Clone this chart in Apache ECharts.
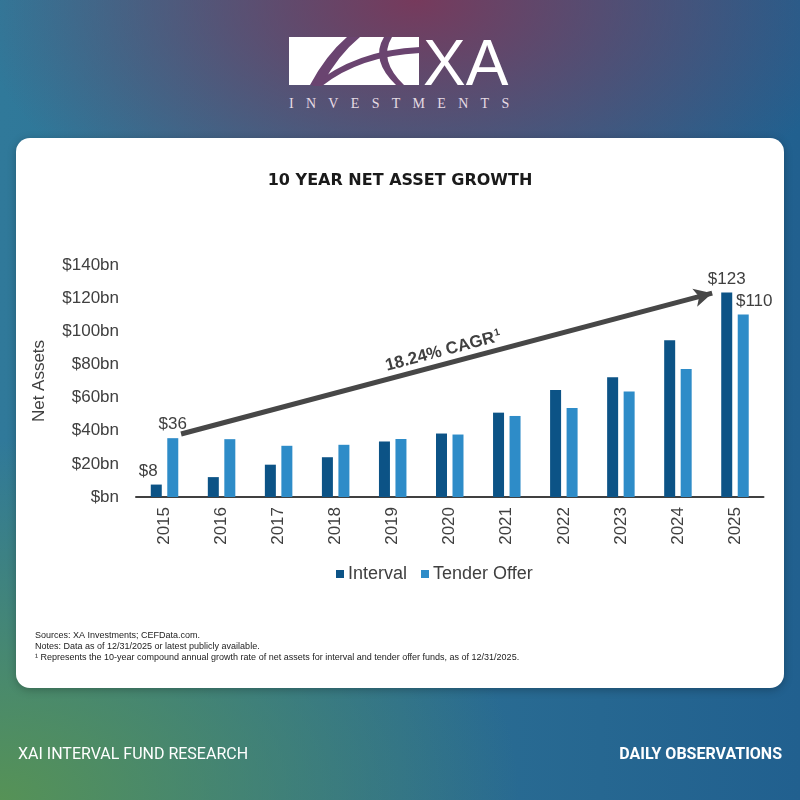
<!DOCTYPE html>
<html>
<head>
<meta charset="utf-8">
<script src="https://cdn.jsdelivr.net/npm/echarts@6/dist/echarts.min.js"></script>
<style>
  html, body { margin: 0; padding: 0; }
  body {
    width: 800px; height: 800px; position: relative; overflow: hidden;
    background:
      radial-gradient(ellipse 440px 260px at 52% 0%, rgba(118,58,92,1) 0%, rgba(118,58,92,0) 100%),
      radial-gradient(ellipse 520px 360px at 0% 100%, rgba(86,146,86,1) 0%, rgba(86,146,86,0) 100%),
      linear-gradient(to right, #30799a 0%, #2b6e93 50%, #21608f 100%);
  }
  #card {
    position: absolute; left: 16px; top: 138px; width: 768px; height: 550px;
    background: #fff; border-radius: 14px; box-shadow: 0 2px 8px rgba(0,0,0,0.25);
  }
  #container { position: absolute; left: 0; top: 0; width: 800px; height: 800px; }
  .foot {
    position: absolute; top: 744px; color: #fff; font-family: Roboto, sans-serif;
    font-size: 16px; white-space: nowrap;
  }
  #foot-left { left: 18px; }
  #foot-right { right: 18px; font-weight: bold; }
  #logo { position: absolute; left: 0; top: 0; }
</style>
</head>
<body>
<svg id="logo" width="800" height="130">
  <rect x="289" y="37" width="130" height="48" fill="#fff"/>
  <path d="M347 37 L360 37 Q338 55 322 85 L310 85 Q326 55 347 37 Z" fill="#6a4470"/>
  <path d="M312 86 Q355 50 420 47 L420 53 Q360 56 322 86 Z" fill="#6a4470"/>
  <path d="M384 37 L392 37 Q378 60 404 85 L396 85 Q370 60 384 37 Z" fill="#6a4470"/>
  <text x="423" y="85" fill="#fff" font-family="Liberation Sans, Arial" font-size="64">XA</text>
  <text x="289" y="108" fill="#e6dbe4" font-family="Liberation Serif, serif" font-size="14" letter-spacing="12.3">INVESTMENTS</text>
</svg>
<div id="card"></div>
<div id="container"></div>
<span class="foot" id="foot-left">XAI INTERVAL FUND RESEARCH</span>
<span class="foot" id="foot-right">DAILY OBSERVATIONS</span>
<script>
var years = ['2015', '2016', '2017', '2018', '2019', '2020', '2021', '2022', '2023', '2024', '2025'];
var intervalData = [7.5, 12, 19.5, 24, 33.5, 38.3, 50.9, 64.5, 72.3, 94.6, 123.4];
var tenderData = [35.5, 34.9, 30.9, 31.5, 35, 37.7, 48.9, 53.7, 63.7, 77.3, 110.2];
var yTicks = [0, 20, 40, 60, 80, 100, 120, 140];
// labelled points: [index, text, x offset]
var intervalLabels = [[0, '$8', -8], [10, '$123', 0]];
var tenderLabels = [[0, '$36', 0], [10, '$110', 11]];
// CAGR arrow, in data units (position along the years, value)
var arrowFrom = [0.29, 38];
var arrowTo = [9.6, 123];
var footnotes = [
    'Sources: XA Investments; CEFData.com.',
    'Notes: Data as of 12/31/2025 or latest publicly available.',
    '\u00b9 Represents the 10-year compound annual growth rate of net assets for interval and tender offer funds, as of 12/31/2025.'
];

var txt = '#404040';
var font = 'Liberation Sans, Arial, sans-serif';

var withLabels = function (values, labels) {
    return values.map(function (v, i) {
        var item = { value: v };
        labels.forEach(function (l) {
            if (l[0] === i) {
                item.label = {
                    show: true, position: 'top', formatter: l[1], offset: [l[2], 0],
                    color: txt, fontSize: 17, fontFamily: font
                };
            }
        });
        return item;
    });
};

var dom = document.getElementById('container');
var myChart = echarts.init(dom, null, { renderer: 'canvas' });

var option = {
    backgroundColor: 'transparent',
    animation: false,
    title: {
        text: '10 YEAR NET ASSET GROWTH',
        left: 'center',
        top: 168,
        textStyle: { fontSize: 16, fontWeight: 'bold', color: '#1a1a1a', fontFamily: 'DejaVu Sans, sans-serif' }
    },
    legend: {
        left: 331,
        top: 560,
        itemWidth: 8,
        itemHeight: 8,
        itemGap: 14,
        icon: 'rect',
        textStyle: { fontSize: 18, color: txt, fontFamily: font, padding: [0, 0, 0, -1] },
        data: ['Interval', 'Tender Offer']
    },
    grid: { left: 136, right: 36.5, top: 265, bottom: 303 },
    xAxis: [
        {
            type: 'category',
            data: years,
            axisLine: { lineStyle: { color: txt, width: 2 } },
            axisTick: { show: false },
            axisLabel: { rotate: 90, margin: 10, fontSize: 17, color: txt, fontFamily: font }
        },
        {
            // hidden twin axis so the arrow can sit between categories
            type: 'value',
            min: -0.5,
            max: years.length - 0.5,
            show: false
        }
    ],
    yAxis: {
        type: 'value',
        min: yTicks[0],
        max: yTicks[yTicks.length - 1],
        interval: 20,
        name: 'Net Assets',
        nameLocation: 'middle',
        nameGap: 88,
        nameRotate: 90,
        nameTextStyle: { fontSize: 17, color: txt, fontFamily: font },
        splitLine: { show: false },
        axisLine: { show: false },
        axisTick: { show: false },
        axisLabel: {
            margin: 17, fontSize: 17, color: txt, fontFamily: font,
            formatter: function (v) { return '$' + (v === 0 ? '' : v) + 'bn'; }
        }
    },
    graphic: footnotes.map(function (t, i) {
        return {
            type: 'text', left: 35, top: 631 + i * 11,
            style: { text: t, fontSize: 9, fill: '#222', fontFamily: font }
        };
    }),
    series: [
        {
            name: 'Interval',
            type: 'bar',
            barWidth: 11,
            barGap: '50%',
            itemStyle: { color: '#0c5386' },
            data: withLabels(intervalData, intervalLabels)
        },
        {
            name: 'Tender Offer',
            type: 'bar',
            barWidth: 11,
            itemStyle: { color: '#2e8cc8' },
            data: withLabels(tenderData, tenderLabels)
        },
        {
            name: 'CAGR',
            type: 'line',
            xAxisIndex: 1,
            data: [],
            markLine: {
                silent: true,
                symbol: ['none', 'arrow'],
                symbolSize: [14, 18],
                lineStyle: { color: '#474747', width: 5, type: 'solid' },
                label: {
                    show: true,
                    position: 'insideMiddleTop',
                    distance: 4,
                    formatter: '{a|18.24% CAGR}{s|1}',
                    rich: {
                        a: { fontSize: 17, fontWeight: 'bold', color: txt, fontFamily: font },
                        s: { fontSize: 10, fontWeight: 'bold', color: txt, fontFamily: font, verticalAlign: 'top', padding: [0, 0, 8, 1] }
                    }
                },
                data: [[{ coord: arrowFrom }, { coord: arrowTo }]]
            }
        }
    ]
};

if (option && typeof option === 'object') {
    myChart.setOption(option);
}
</script>
</body>
</html>
